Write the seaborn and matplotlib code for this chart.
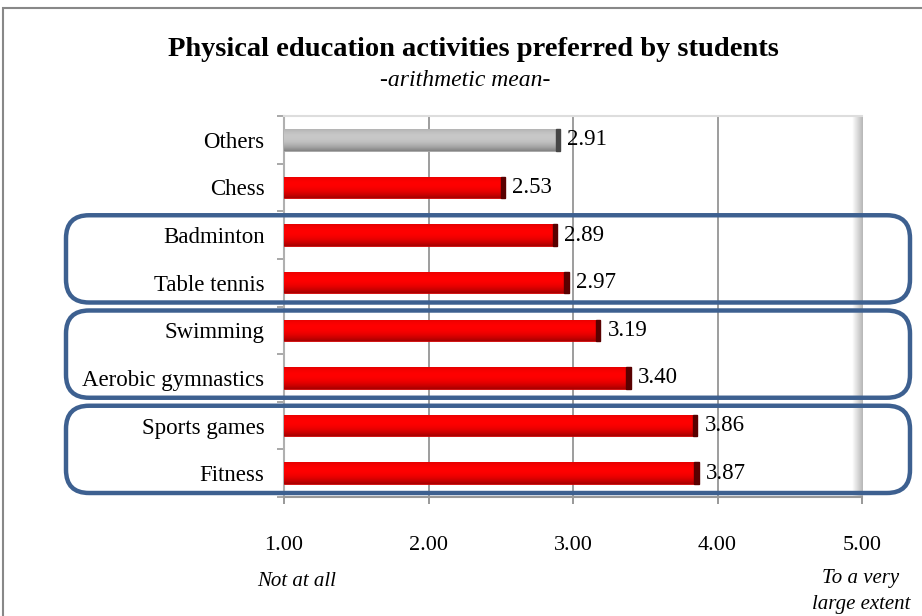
import matplotlib
matplotlib.use("Agg")
import matplotlib.pyplot as plt
import seaborn as sns
import numpy as np
import pandas as pd
from matplotlib.patches import FancyBboxPatch, Rectangle

categories = ["Others", "Chess", "Badminton", "Table tennis", "Swimming",
              "Aerobic gymnastics", "Sports games", "Fitness"]
values = [2.91, 2.53, 2.89, 2.97, 3.19, 3.40, 3.86, 3.87]
value_labels = ["2.91", "2.53", "2.89", "2.97", "3.19", "3.40", "3.86", "3.87"]
bar_colors = ["#C8C8C8", "#FF0000", "#FF0000", "#FF0000", "#FF0000", "#FF0000", "#FF0000", "#FF0000"]
axis_min = 1.0
xticks = [1.0, 2.0, 3.0, 4.0, 5.0]
xtick_labels = ["1.00", "2.00", "3.00", "4.00", "5.00"]
groups = [("Badminton", "Table tennis"), ("Swimming", "Aerobic gymnastics"), ("Sports games", "Fitness")]

sns.set_theme(style="white")
plt.rcParams["font.family"] = ["Liberation Serif", "DejaVu Serif"]
plt.rcParams["text.color"] = "black"
plt.rcParams["xtick.color"] = "black"
plt.rcParams["ytick.color"] = "black"

W, H = 922, 616
fig = plt.figure(figsize=(W / 100, H / 100), dpi=100)
ax = fig.add_axes([284 / W, 1 - 497 / H, (862 - 284) / W, (497 - 116) / H])

df = pd.DataFrame({"cat": categories, "val": values})
sns.barplot(data=df, y="cat", x="val", hue="cat", palette=bar_colors, legend=False,
            width=0.45, ax=ax, orient="h", zorder=3)
# bars start at the axis minimum (1.00), as in the original chart
for p in ax.patches:
    w = p.get_width()
    p.set_x(axis_min)
    p.set_width(w - axis_min)

ax.set_xticks(xticks)
ax.set_xticklabels(xtick_labels, fontsize=16, color="black")
ax.tick_params(axis="x", pad=23, length=5, width=1.2, color="#888888", direction="out", bottom=True)
ax.tick_params(axis="y", labelsize=16.5, pad=14, length=0, labelcolor="black")
ax.set_yticks(np.arange(len(categories) + 1) - 0.5, minor=True)
ax.tick_params(axis="y", which="minor", left=True, length=5, width=1.2, color="#999999")
ax.set_xlabel("")
ax.set_ylabel("")
for x in xticks[1:-1]:
    ax.axvline(x, color="#8C8C8C", lw=1.2, zorder=1)
ax.spines["right"].set_visible(False)
ax.spines["top"].set_color("#DDDDDD")
ax.spines["top"].set_linewidth(1.5)
ax.spines["left"].set_color("#B0B0B0")
ax.spines["bottom"].set_color("#999999")
ax.spines["left"].set_linewidth(1.5)
ax.spines["bottom"].set_linewidth(1.5)

# right-side shadow of plot area
shade = np.linspace(1, 0.72, 20).reshape(1, -1)
ax.imshow(np.dstack([shade, shade, shade]), extent=(4.93, 5.0, -0.5, len(categories) - 0.5),
          aspect="auto", zorder=0)

# gradient on bars
for p, c in zip(ax.patches, bar_colors):
    x0, y0 = p.get_x(), p.get_y()
    w, h = p.get_width(), p.get_height()
    rgb = np.array(matplotlib.colors.to_rgb(c))
    t = np.linspace(0, 1, 30)
    light = np.clip(1 - 4 * 0.45 * (t - 0.35) ** 2, 0, 1)
    grad = np.clip(rgb[None, :] * light[:, None] + (1 - light[:, None]) * rgb[None, :] * 0.55, 0, 1)
    img = grad[:, None, :]
    im = ax.imshow(img, extent=(x0, x0 + w, y0 + h, y0), aspect="auto", zorder=3.5)
    im.set_clip_path(p)
    dark = rgb * 0.35
    ax.add_patch(Rectangle((x0 + w - 0.03, y0), 0.03, h, color=dark, zorder=3.6))
    p.set_edgecolor(rgb * 0.8)
    p.set_linewidth(0.6)

for i, (v, lab) in enumerate(zip(values, value_labels)):
    ax.text(v + 0.05, i, lab, va="center", ha="left", fontsize=16.5, color="black", zorder=5)

ax.set_xlim(1.0, 5.0)
ax.set_ylim(len(categories) - 0.5, -0.5)

# group boxes
pos = {c: i for i, c in enumerate(categories)}
for a, b in groups:
    i0, i1 = pos[a], pos[b]
    y_top = ax.transData.transform((1.0, i0 - 0.5))[1]
    y_bot = ax.transData.transform((1.0, i1 + 0.5))[1]
    fx0 = 66 / W
    fx1 = 910 / W
    fy0 = y_bot / H + 4 / H
    fy1 = y_top / H - 4 / H
    box = FancyBboxPatch((fx0, fy0), fx1 - fx0, fy1 - fy0,
                         boxstyle="round,pad=0,rounding_size=0.025",
                         transform=fig.transFigure, fill=False, ec="#3D6090", lw=3.2,
                         mutation_aspect=W / H, zorder=10)
    fig.add_artist(box)

# outer frame
fig.add_artist(Rectangle((3 / W, -0.01), 1.0, 1 - 8 / H + 0.01, transform=fig.transFigure,
                         fill=False, ec="#888888", lw=1.5))

fig.text(473 / W, 1 - 50 / H, "Physical education activities preferred by students",
         ha="center", va="center", fontsize=20.5, fontweight="bold", color="black")
fig.text(465 / W, 1 - 81 / H, "-arithmetic mean-", ha="center", va="center",
         fontsize=17, fontstyle="italic", color="black")
fig.text(297 / W, 1 - 581 / H, "Not at all", ha="center", va="center",
         fontsize=15, fontstyle="italic", color="black")
fig.text(861 / W, 1 - 592 / H, "To a very\nlarge extent", ha="center", va="center",
         fontsize=15, fontstyle="italic", multialignment="center", linespacing=1.5,
         color="black")

fig.savefig("out.png", dpi=100)
